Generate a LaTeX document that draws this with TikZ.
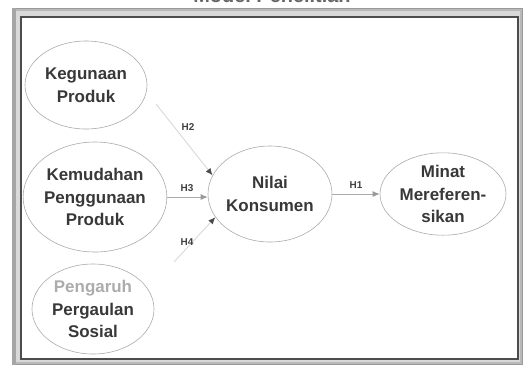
\documentclass[tikz,border=0pt]{standalone}
\usepackage{fontspec}
\setmainfont{Liberation Sans}
\usetikzlibrary{shapes.geometric,arrows.meta}
\tikzset{
  var/.style={ellipse,draw=gray!65,line width=0.6bp,inner sep=0pt,align=center,
    font=\bfseries\fontsize{17}{23}\selectfont,text=black!78},
  conn/.style={draw=gray!65,line width=0.9bp,-{Latex[length=7bp,width=6bp,color=gray!80]}},
  faint/.style={draw=gray!30,line width=0.9bp,-{Latex[length=7bp,width=6bp,color=black!70]}},
  hlab/.style={font=\bfseries\fontsize{10}{11}\selectfont,text=black!75,inner sep=0pt}
}
\begin{document}
\begin{tikzpicture}[x=1bp,y=-1bp]
\useasboundingbox (0,0) rectangle (525,367);
\clip (0,0) rectangle (525,367);
\fill[white] (0,0) rectangle (525,367);
% title, cut off at the top
\node[anchor=base,font=\bfseries\fontsize{20}{22}\selectfont,text=black!60,inner sep=0pt] (title) at (272,2) {Model Penelitian};
% frame
\fill[gray!55] (12,8) rectangle (523,365);
\fill[gray!30] (15,11) rectangle (520,362);
\fill[white] (21,17) rectangle (518,359);
\draw[black!70,line width=1.2bp] (21,17) rectangle (518,359);
\draw[gray!80,line width=1bp] (12.5,8.5) rectangle (522.5,364.5);
\fill[gray!70] (12,8) rectangle (16,365);
% variables
\node[var,minimum width=122bp,minimum height=88bp] (keg) at (86,85) {Kegunaan\\Produk};
\node[var,minimum width=140bp,minimum height=110bp] (kem) at (95,197) {Kemudahan\\Penggunaan\\Produk};
\node[var,minimum width=122bp,minimum height=90bp] (pen) at (93,309) {\textcolor{gray!65}{Pengaruh}\\Pergaulan\\Sosial};
\node[var,minimum width=124bp,minimum height=96bp] (nil) at (270,194) {Nilai\\Konsumen};
\node[var,minimum width=126bp,minimum height=80bp] (min) at (443,194) {Minat\\Mereferen-\\sikan};
% connectors
\coordinate (h2s) at (156,104);
\coordinate (h4s) at (174,262);
\draw[faint] (h2s) -- (nil.162);
\draw[conn] (kem.east) -- (kem.east -| nil.west);
\draw[faint] (h4s) -- (nil.203);
\draw[conn] (nil.east) -- (min.west);
% labels
\node[hlab] (l2) at (188,127) {H2};
\node[hlab] (l3) at (187,188) {H3};
\node[hlab] (l4) at (187,242) {H4};
\node[hlab] (l1) at (356,185) {H1};
\end{tikzpicture}
\end{document}
